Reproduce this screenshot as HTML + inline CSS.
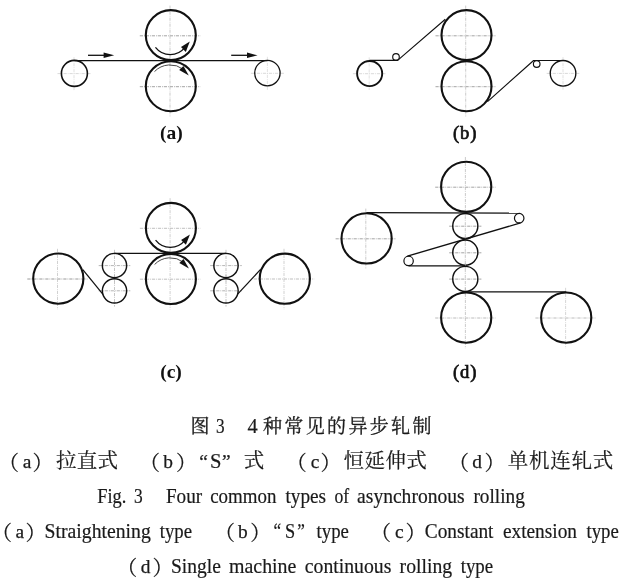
<!DOCTYPE html>
<html lang="zh">
<head>
<meta charset="utf-8">
<title>图 3 4 种常见的异步轧制</title>
<style>
html,body{margin:0;padding:0;background:#fff;}
body{width:628px;height:584px;overflow:hidden;}
svg{display:block;will-change:transform;}
text{fill:#1a1a1a;}
.en{font-family:"Liberation Serif","Noto Serif CJK SC",serif;font-size:20.6px;stroke:#1a1a1a;stroke-width:0.2px;}
.lt{font-family:"Liberation Serif","Noto Serif CJK SC",serif;font-size:19.4px;stroke:#1a1a1a;stroke-width:0.25px;}
.z1{font-family:"Noto Serif CJK SC","Liberation Serif",serif;font-size:19px;font-weight:400;stroke:#1a1a1a;stroke-width:0.3px;}
.zh{font-family:"Noto Serif CJK SC","Liberation Serif",serif;font-size:20.5px;font-weight:400;stroke:#1a1a1a;stroke-width:0.2px;}
.lb{font-family:"Liberation Serif",serif;font-size:19.5px;font-weight:bold;fill:#111;}
.lm{font-weight:normal;font-size:18.6px;stroke:#111;stroke-width:0.7px;letter-spacing:0.9px;}
</style>
</head>
<body>
<svg width="628" height="584" viewBox="0 0 628 584">
<rect x="0" y="0" width="628" height="584" fill="#ffffff"/>
<g id="diagram">
<line x1="57.5" y1="73.6" x2="90.5" y2="73.6" stroke="#cfcfcf" stroke-width="0.8" stroke-dasharray="3.2 1 0.8 1"/><line x1="74.0" y1="57.1" x2="74.0" y2="90.1" stroke="#cfcfcf" stroke-width="0.6" stroke-dasharray="3.2 1 0.8 1"/>
<line x1="250.9" y1="73.3" x2="283.9" y2="73.3" stroke="#cfcfcf" stroke-width="0.8" stroke-dasharray="3.2 1 0.8 1"/><line x1="267.4" y1="56.8" x2="267.4" y2="89.8" stroke="#cfcfcf" stroke-width="0.6" stroke-dasharray="3.2 1 0.8 1"/>
<line x1="139.8" y1="35.8" x2="200.2" y2="35.8" stroke="#9a9a9a" stroke-width="0.8999999999999999" stroke-dasharray="3.2 1 0.8 1"/><line x1="170.0" y1="5.6" x2="170.0" y2="66.0" stroke="#b4b4b4" stroke-width="0.7" stroke-dasharray="3.2 1 0.8 1"/>
<line x1="139.8" y1="86.7" x2="200.2" y2="86.7" stroke="#9a9a9a" stroke-width="0.8999999999999999" stroke-dasharray="3.2 1 0.8 1"/><line x1="170.0" y1="56.5" x2="170.0" y2="116.9" stroke="#b4b4b4" stroke-width="0.7" stroke-dasharray="3.2 1 0.8 1"/>
<circle cx="74.4" cy="73.4" r="13.0" fill="none" stroke="#111" stroke-width="1.6"/>
<circle cx="267.4" cy="73.1" r="12.7" fill="none" stroke="#111" stroke-width="1.3"/>
<circle cx="170.8" cy="35.1" r="25.0" fill="none" stroke="#111" stroke-width="2.1"/>
<circle cx="170.8" cy="86.2" r="25.0" fill="none" stroke="#111" stroke-width="2.1"/>
<line x1="74.4" y1="60.5" x2="267.4" y2="60.5" stroke="#111" stroke-width="1.25"/>
<line x1="88" y1="55.3" x2="108.2" y2="55.3" stroke="#111" stroke-width="1.3"/><polygon points="114.2,55.3 103.6,52.6 103.6,58.0" fill="#111"/>
<line x1="231.2" y1="55.3" x2="251.6" y2="55.3" stroke="#111" stroke-width="1.3"/><polygon points="257.6,55.3 247.0,52.6 247.0,58.0" fill="#111"/>
<path d="M155.46,47.31 A18.7,18.7 0 0 0 184.94,47.31" fill="none" stroke="#111" stroke-width="1.25"/><polygon points="189.8,41.6 181.0,47.1 185.8,51.9" fill="#111"/><path d="M154.52,71.56 A21.8,21.8 0 0 1 183.62,69.52" fill="none" stroke="#333" stroke-width="0.9"/><polygon points="188.8,75.5 179.2,70.1 183.4,66.1" fill="#111"/>
<line x1="352.9" y1="73.7" x2="385.5" y2="73.7" stroke="#cfcfcf" stroke-width="0.8" stroke-dasharray="3.2 1 0.8 1"/><line x1="369.2" y1="57.4" x2="369.2" y2="90.0" stroke="#cfcfcf" stroke-width="0.6" stroke-dasharray="3.2 1 0.8 1"/>
<line x1="546.7" y1="73.4" x2="579.3" y2="73.4" stroke="#cfcfcf" stroke-width="0.8" stroke-dasharray="3.2 1 0.8 1"/><line x1="563.0" y1="57.1" x2="563.0" y2="89.7" stroke="#cfcfcf" stroke-width="0.6" stroke-dasharray="3.2 1 0.8 1"/>
<line x1="435.5" y1="35.8" x2="495.9" y2="35.8" stroke="#9a9a9a" stroke-width="0.8999999999999999" stroke-dasharray="3.2 1 0.8 1"/><line x1="465.7" y1="5.6" x2="465.7" y2="66.0" stroke="#b4b4b4" stroke-width="0.7" stroke-dasharray="3.2 1 0.8 1"/>
<line x1="435.5" y1="86.7" x2="495.9" y2="86.7" stroke="#9a9a9a" stroke-width="0.8999999999999999" stroke-dasharray="3.2 1 0.8 1"/><line x1="465.7" y1="56.5" x2="465.7" y2="116.9" stroke="#b4b4b4" stroke-width="0.7" stroke-dasharray="3.2 1 0.8 1"/>
<circle cx="369.65" cy="73.55" r="12.55" fill="none" stroke="#111" stroke-width="1.9"/>
<circle cx="563.05" cy="73.3" r="12.8" fill="none" stroke="#111" stroke-width="1.35"/>
<circle cx="466.5" cy="35.1" r="25.0" fill="none" stroke="#111" stroke-width="2.1"/>
<circle cx="466.5" cy="86.2" r="25.0" fill="none" stroke="#111" stroke-width="2.1"/>
<circle cx="396.0" cy="56.9" r="3.3" fill="none" stroke="#111" stroke-width="1.15"/>
<circle cx="536.7" cy="64.0" r="3.3" fill="none" stroke="#111" stroke-width="1.15"/>
<polyline points="369.6,60.4 397.6,60.4 445.3,19.3" fill="none" stroke="#111" stroke-width="1.15" stroke-linejoin="round"/>
<polyline points="487.5,101.6 533.6,60.5 563.0,60.5" fill="none" stroke="#111" stroke-width="1.15" stroke-linejoin="round"/>
<line x1="27.3" y1="279.0" x2="87.7" y2="279.0" stroke="#8f8f8f" stroke-width="0.8999999999999999" stroke-dasharray="3.2 1 0.8 1"/><line x1="57.5" y1="248.8" x2="57.5" y2="309.2" stroke="#bdbdbd" stroke-width="0.7" stroke-dasharray="3.2 1 0.8 1"/>
<line x1="253.8" y1="279.0" x2="314.2" y2="279.0" stroke="#b8b8b8" stroke-width="0.8999999999999999" stroke-dasharray="3.2 1 0.8 1"/><line x1="284.0" y1="248.8" x2="284.0" y2="309.2" stroke="#bdbdbd" stroke-width="0.7" stroke-dasharray="3.2 1 0.8 1"/>
<line x1="139.9" y1="228.3" x2="200.3" y2="228.3" stroke="#b8b8b8" stroke-width="0.8999999999999999" stroke-dasharray="3.2 1 0.8 1"/><line x1="170.1" y1="198.1" x2="170.1" y2="258.5" stroke="#bdbdbd" stroke-width="0.7" stroke-dasharray="3.2 1 0.8 1"/>
<line x1="139.9" y1="279.2" x2="200.3" y2="279.2" stroke="#b8b8b8" stroke-width="0.8999999999999999" stroke-dasharray="3.2 1 0.8 1"/><line x1="170.1" y1="249.0" x2="170.1" y2="309.4" stroke="#bdbdbd" stroke-width="0.7" stroke-dasharray="3.2 1 0.8 1"/>
<line x1="98.7" y1="265.6" x2="130.3" y2="265.6" stroke="#adadad" stroke-width="0.8999999999999999" stroke-dasharray="3.2 1 0.8 1"/><line x1="114.5" y1="249.8" x2="114.5" y2="281.4" stroke="#adadad" stroke-width="0.7" stroke-dasharray="3.2 1 0.8 1"/>
<line x1="98.7" y1="290.8" x2="130.3" y2="290.8" stroke="#adadad" stroke-width="0.8999999999999999" stroke-dasharray="3.2 1 0.8 1"/><line x1="114.5" y1="275.0" x2="114.5" y2="306.6" stroke="#adadad" stroke-width="0.7" stroke-dasharray="3.2 1 0.8 1"/>
<circle cx="114.5" cy="265.5" r="12.15" fill="none" stroke="#111" stroke-width="1.45"/>
<circle cx="114.5" cy="290.8" r="12.15" fill="none" stroke="#111" stroke-width="1.45"/>
<line x1="210.2" y1="265.6" x2="241.8" y2="265.6" stroke="#adadad" stroke-width="0.8999999999999999" stroke-dasharray="3.2 1 0.8 1"/><line x1="226.0" y1="249.8" x2="226.0" y2="281.4" stroke="#adadad" stroke-width="0.7" stroke-dasharray="3.2 1 0.8 1"/>
<line x1="210.2" y1="290.8" x2="241.8" y2="290.8" stroke="#adadad" stroke-width="0.8999999999999999" stroke-dasharray="3.2 1 0.8 1"/><line x1="226.0" y1="275.0" x2="226.0" y2="306.6" stroke="#adadad" stroke-width="0.7" stroke-dasharray="3.2 1 0.8 1"/>
<circle cx="226.0" cy="265.5" r="12.15" fill="none" stroke="#111" stroke-width="1.45"/>
<circle cx="226.0" cy="290.8" r="12.15" fill="none" stroke="#111" stroke-width="1.45"/>
<circle cx="58.3" cy="278.6" r="25.1" fill="none" stroke="#111" stroke-width="2.1"/>
<circle cx="284.8" cy="278.7" r="25.1" fill="none" stroke="#111" stroke-width="2.1"/>
<circle cx="170.9" cy="227.9" r="25.0" fill="none" stroke="#111" stroke-width="2.1"/>
<circle cx="170.9" cy="279.0" r="25.0" fill="none" stroke="#111" stroke-width="2.1"/>
<line x1="114.5" y1="253.4" x2="226.0" y2="253.4" stroke="#111" stroke-width="1.25"/>
<line x1="82.8" y1="269.6" x2="103.2" y2="294.6" stroke="#111" stroke-width="1.25"/>
<line x1="237.4" y1="294.4" x2="260.6" y2="269.4" stroke="#111" stroke-width="1.25"/>
<path d="M155.56,240.21 A18.7,18.7 0 0 0 185.04,240.21" fill="none" stroke="#111" stroke-width="1.25"/><polygon points="189.9,234.5 181.1,240.0 185.9,244.8" fill="#111"/><path d="M154.62,264.46 A21.8,21.8 0 0 1 183.72,262.42" fill="none" stroke="#333" stroke-width="0.9"/><polygon points="188.9,268.4 179.3,263.0 183.5,259.0" fill="#111"/>
<line x1="335.6" y1="238.8" x2="396.0" y2="238.8" stroke="#9a9a9a" stroke-width="0.8999999999999999" stroke-dasharray="3.2 1 0.8 1"/><line x1="365.8" y1="208.6" x2="365.8" y2="269.0" stroke="#b4b4b4" stroke-width="0.7" stroke-dasharray="3.2 1 0.8 1"/>
<line x1="435.2" y1="187.2" x2="495.6" y2="187.2" stroke="#9a9a9a" stroke-width="0.8999999999999999" stroke-dasharray="3.2 1 0.8 1"/><line x1="465.4" y1="157.0" x2="465.4" y2="217.4" stroke="#b4b4b4" stroke-width="0.7" stroke-dasharray="3.2 1 0.8 1"/>
<line x1="435.2" y1="318.0" x2="495.6" y2="318.0" stroke="#b4b4b4" stroke-width="0.8999999999999999" stroke-dasharray="3.2 1 0.8 1"/><line x1="465.4" y1="287.8" x2="465.4" y2="348.2" stroke="#b4b4b4" stroke-width="0.7" stroke-dasharray="3.2 1 0.8 1"/>
<line x1="535.4" y1="318.0" x2="595.8" y2="318.0" stroke="#b4b4b4" stroke-width="0.8999999999999999" stroke-dasharray="3.2 1 0.8 1"/><line x1="565.6" y1="287.8" x2="565.6" y2="348.2" stroke="#c4c4c4" stroke-width="0.7" stroke-dasharray="3.2 1 0.8 1"/>
<line x1="449.2" y1="226.2" x2="481.4" y2="226.2" stroke="#9a9a9a" stroke-width="0.8999999999999999" stroke-dasharray="3.2 1 0.8 1"/><line x1="465.3" y1="210.1" x2="465.3" y2="242.3" stroke="#b4b4b4" stroke-width="0.7" stroke-dasharray="3.2 1 0.8 1"/>
<circle cx="465.3" cy="226.0" r="12.55" fill="none" stroke="#111" stroke-width="1.45"/>
<line x1="449.2" y1="252.8" x2="481.4" y2="252.8" stroke="#9a9a9a" stroke-width="0.8999999999999999" stroke-dasharray="3.2 1 0.8 1"/><line x1="465.3" y1="236.7" x2="465.3" y2="268.9" stroke="#b4b4b4" stroke-width="0.7" stroke-dasharray="3.2 1 0.8 1"/>
<circle cx="465.3" cy="252.6" r="12.55" fill="none" stroke="#111" stroke-width="1.45"/>
<line x1="449.2" y1="279.1" x2="481.4" y2="279.1" stroke="#9a9a9a" stroke-width="0.8999999999999999" stroke-dasharray="3.2 1 0.8 1"/><line x1="465.3" y1="263.0" x2="465.3" y2="295.2" stroke="#b4b4b4" stroke-width="0.7" stroke-dasharray="3.2 1 0.8 1"/>
<circle cx="465.3" cy="278.9" r="12.55" fill="none" stroke="#111" stroke-width="1.45"/>
<circle cx="366.6" cy="238.4" r="25.1" fill="none" stroke="#111" stroke-width="2.1"/>
<circle cx="466.2" cy="186.8" r="25.1" fill="none" stroke="#111" stroke-width="2.1"/>
<circle cx="466.2" cy="317.6" r="25.1" fill="none" stroke="#111" stroke-width="2.1"/>
<circle cx="566.2" cy="317.6" r="25.1" fill="none" stroke="#111" stroke-width="2.1"/>
<circle cx="519.2" cy="218.2" r="4.75" fill="none" stroke="#111" stroke-width="1.2"/>
<circle cx="408.6" cy="260.9" r="4.7" fill="none" stroke="#111" stroke-width="1.2"/>
<line x1="366.6" y1="212.5" x2="519.2" y2="213.2" stroke="#111" stroke-width="1.25"/>
<line x1="520.6" y1="222.9" x2="407.4" y2="256.2" stroke="#111" stroke-width="1.25"/>
<line x1="408.6" y1="265.8" x2="465.1" y2="265.8" stroke="#111" stroke-width="1.25"/>
<line x1="465.1" y1="291.9" x2="566.2" y2="291.9" stroke="#111" stroke-width="1.25"/>
<text x="171.3" y="139.3" class="lb" text-anchor="middle">(a)</text>
<text x="465.2" y="139.4" class="lb lm" text-anchor="middle">(b)</text>
<text x="171.0" y="378.2" class="lb" text-anchor="middle">(c)</text>
<text x="465.2" y="378.3" class="lb lm" text-anchor="middle">(d)</text>
</g>
<g id="caption">
<text x="190.6" y="433.2" class="z1">图</text>
<text x="216.0" y="433.2" class="en" textLength="8.6" lengthAdjust="spacingAndGlyphs">3</text>
<text x="247.4" y="433.2" class="en" textLength="10.2" lengthAdjust="spacingAndGlyphs">4</text>
<text x="262.9" y="433.2" class="z1" textLength="168.6" lengthAdjust="spacing">种常见的异步轧制</text>
<text x="-1.4" y="470.1" class="zh">（</text><text x="22.7" y="468.2" class="lt">a</text><text x="32.6" y="470.1" class="zh">）</text><text x="56.0" y="468.0" class="zh" textLength="62.0" lengthAdjust="spacing">拉直式</text>
<text x="139.6" y="470.1" class="zh">（</text><text x="163.3" y="468.2" class="lt">b</text><text x="175.9" y="470.1" class="zh">）</text>
<text x="199.2" y="468.0" class="lt">“</text><text x="210.0" y="468.0" class="en">S</text><text x="222.0" y="468.0" class="lt">”</text>
<text x="243.8" y="468.0" class="zh">式</text>
<text x="286.2" y="470.1" class="zh">（</text><text x="310.8" y="468.2" class="lt">c</text><text x="320.6" y="470.1" class="zh">）</text><text x="343.6" y="468.0" class="zh" textLength="83.2" lengthAdjust="spacing">恒延伸式</text>
<text x="448.5" y="470.1" class="zh">（</text><text x="472.2" y="468.2" class="lt">d</text><text x="484.4" y="470.1" class="zh">）</text><text x="507.8" y="468.0" class="zh" textLength="105.4" lengthAdjust="spacing">单机连轧式</text>
<text x="97.2" y="503.0" class="en" textLength="29.1" lengthAdjust="spacingAndGlyphs">Fig.</text>
<text x="134.0" y="503.0" class="en" textLength="8.7" lengthAdjust="spacingAndGlyphs">3</text>
<text x="165.9" y="503.0" class="en" textLength="36.2" lengthAdjust="spacingAndGlyphs">Four</text>
<text x="210.2" y="503.0" class="en" textLength="66.2" lengthAdjust="spacingAndGlyphs">common</text>
<text x="285.4" y="503.0" class="en" textLength="40.7" lengthAdjust="spacingAndGlyphs">types</text>
<text x="334.5" y="503.0" class="en" textLength="14.7" lengthAdjust="spacingAndGlyphs">of</text>
<text x="357.1" y="503.0" class="en" textLength="107.5" lengthAdjust="spacingAndGlyphs">asynchronous</text>
<text x="473.4" y="503.0" class="en" textLength="51.4" lengthAdjust="spacingAndGlyphs">rolling</text>
<text x="-8.6" y="540.2" class="zh">（</text><text x="15.5" y="538.4" class="lt">a</text><text x="25.4" y="540.2" class="zh">）</text>
<text x="214.4" y="540.2" class="zh">（</text><text x="238.1" y="538.4" class="lt">b</text><text x="250.2" y="540.2" class="zh">）</text>
<text x="370.6" y="540.2" class="zh">（</text><text x="395.0" y="538.4" class="lt">c</text><text x="405.6" y="540.2" class="zh">）</text>
<text x="44.6" y="538.0" class="en" textLength="106.2" lengthAdjust="spacingAndGlyphs">Straightening</text>
<text x="159.7" y="538.0" class="en" textLength="32.3" lengthAdjust="spacingAndGlyphs">type</text>
<text x="273.6" y="538.0" class="en" textLength="7.6" lengthAdjust="spacingAndGlyphs">“</text>
<text x="285.0" y="538.0" class="en" textLength="10.2" lengthAdjust="spacingAndGlyphs">S</text>
<text x="297.3" y="538.0" class="en" textLength="7.6" lengthAdjust="spacingAndGlyphs">”</text>
<text x="316.6" y="538.0" class="en" textLength="32.3" lengthAdjust="spacingAndGlyphs">type</text>
<text x="424.8" y="538.0" class="en" textLength="68.7" lengthAdjust="spacingAndGlyphs">Constant</text>
<text x="502.9" y="538.0" class="en" textLength="74.1" lengthAdjust="spacingAndGlyphs">extension</text>
<text x="586.5" y="538.0" class="en" textLength="32.3" lengthAdjust="spacingAndGlyphs">type</text>
<text x="116.7" y="574.6000000000001" class="zh">（</text><text x="140.7" y="572.8000000000001" class="lt">d</text><text x="152.4" y="574.6000000000001" class="zh">）</text>
<text x="171.0" y="573.2" class="en" textLength="49.8" lengthAdjust="spacingAndGlyphs">Single</text>
<text x="229.0" y="573.2" class="en" textLength="67.4" lengthAdjust="spacingAndGlyphs">machine</text>
<text x="304.8" y="573.2" class="en" textLength="86.6" lengthAdjust="spacingAndGlyphs">continuous</text>
<text x="399.6" y="573.2" class="en" textLength="52.5" lengthAdjust="spacingAndGlyphs">rolling</text>
<text x="460.7" y="573.2" class="en" textLength="32.5" lengthAdjust="spacingAndGlyphs">type</text>
</g>
</svg>
</body>
</html>
